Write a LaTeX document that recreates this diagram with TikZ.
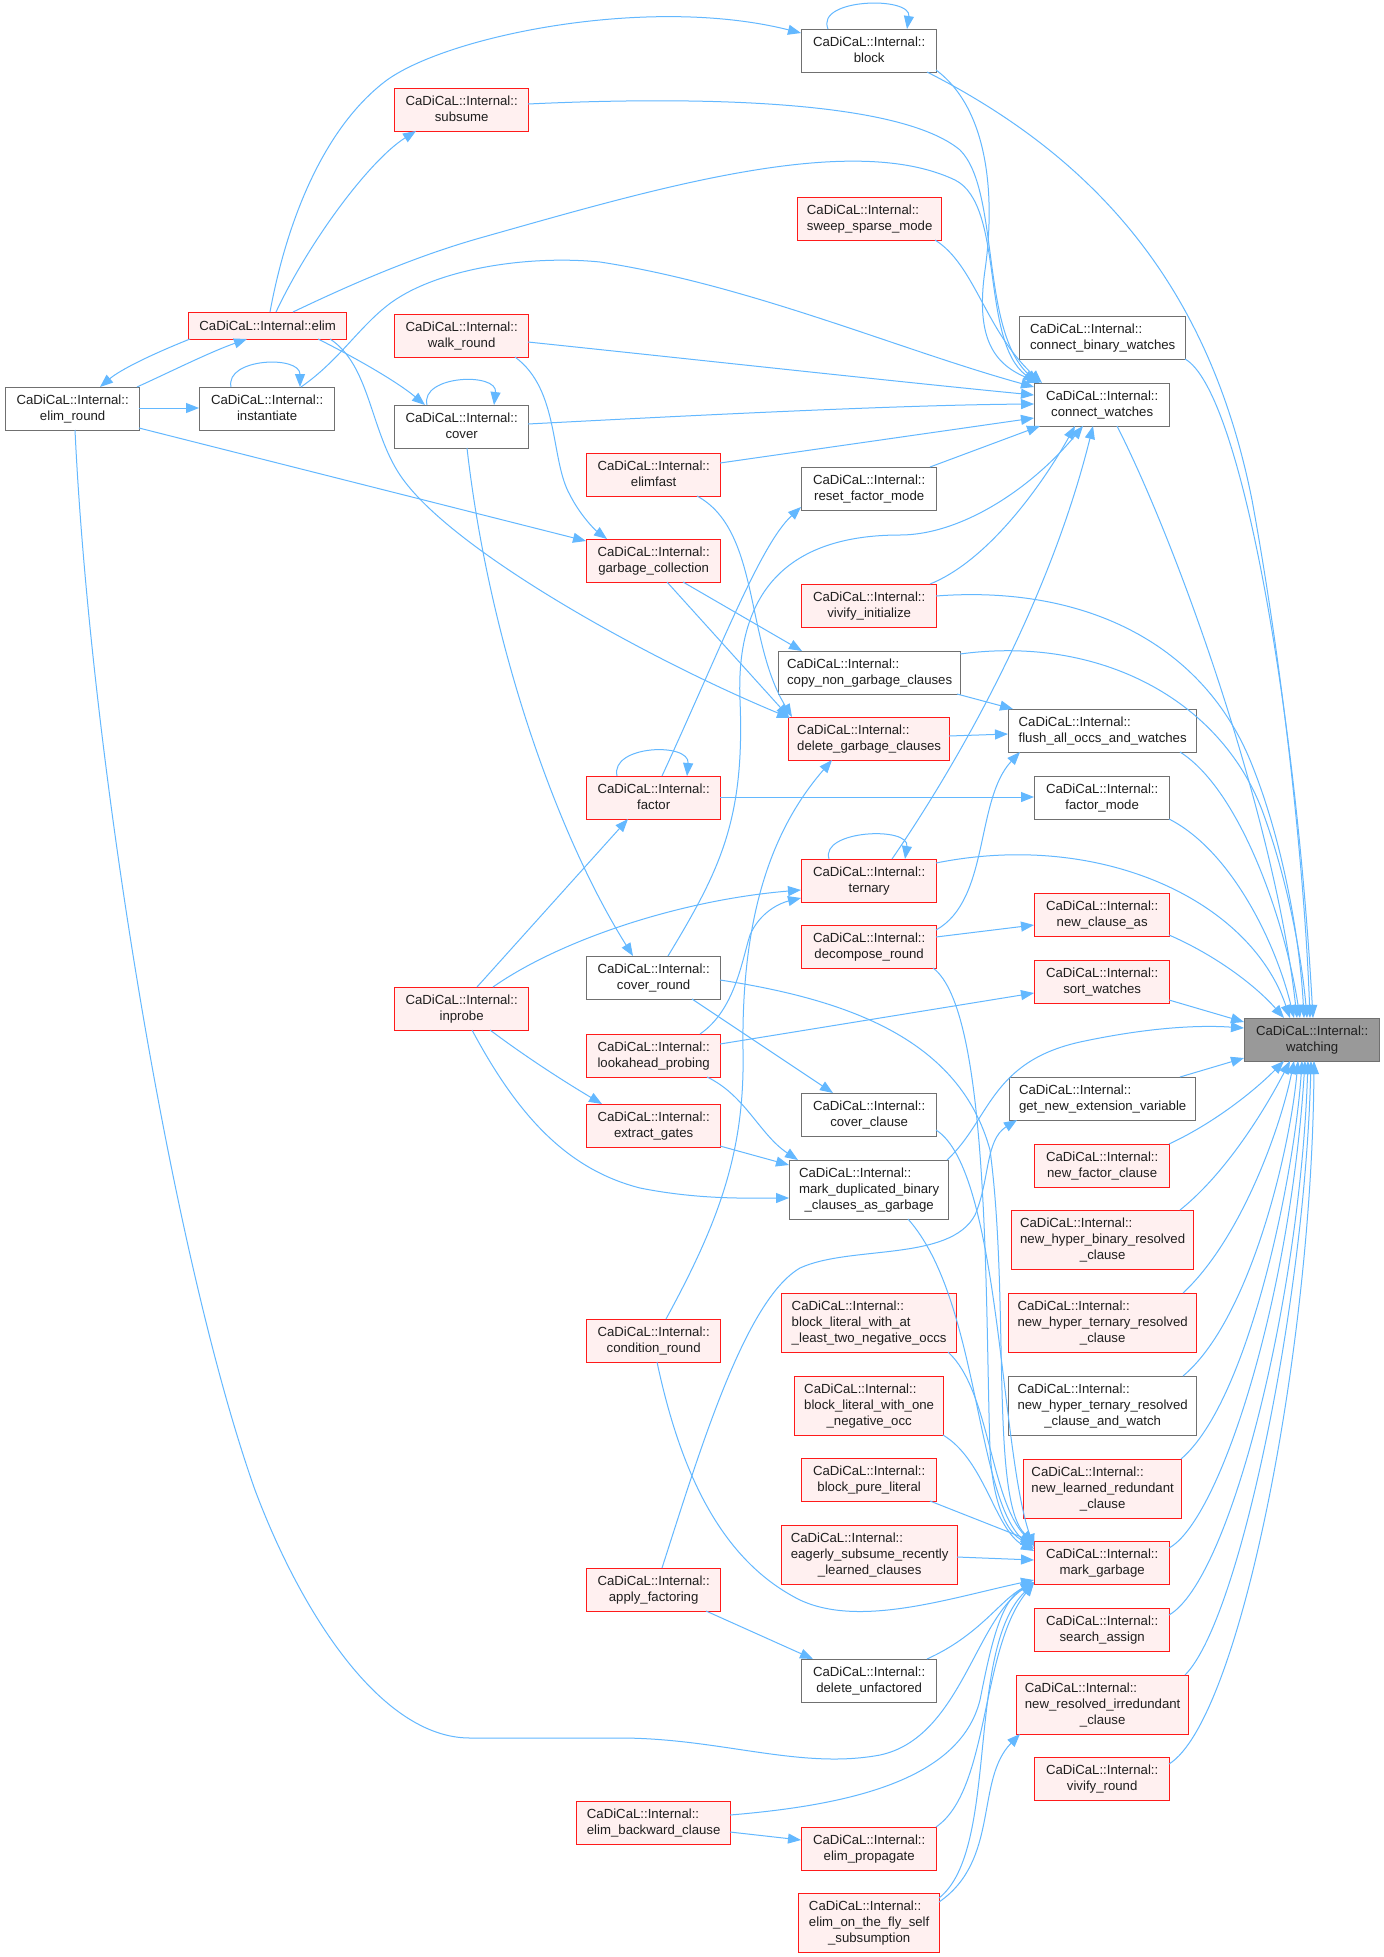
\documentclass[tikz,border=0pt]{standalone}
\usepackage{fontspec}
\setmainfont{Liberation Sans}
\usetikzlibrary{arrows.meta}
\definecolor{ec}{HTML}{63B8FF}
\definecolor{gb}{HTML}{707070}
\definecolor{rb}{HTML}{FF1A1A}
\definecolor{rf}{HTML}{FFF0F0}
\definecolor{wf}{HTML}{999999}
\newcommand\lbA[1]{\begin{tabular}{@{}l@{}}CaDiCaL::Internal::\\\multicolumn{1}{@{}c@{}}{#1}\end{tabular}}
\newcommand\lbB[2]{\begin{tabular}{@{}l@{}}CaDiCaL::Internal::\\#1\\\multicolumn{1}{@{}c@{}}{#2}\end{tabular}}
\begin{document}
\begin{tikzpicture}[x=1pt,y=-1pt,
 nb/.style={draw=gb, fill=white, line width=1.3pt, inner sep=0pt, anchor=north west, font=\fontsize{13.2}{16}\selectfont, text=black!88},
 nr/.style={nb, draw=rb, fill=rf},
 cx/.style={draw=ec, line width=1pt, -{Triangle[length=13pt,width=10pt]}}]
\useasboundingbox[fill=white] (0,0) rectangle (1384,1957);

\node[nr,minimum width=158,minimum height=27] (elim) at (188,312) {CaDiCaL::Internal::elim};
\node[nb,minimum width=134,minimum height=43] (elimround) at (5,387) {\lbA{elim\_round}};
\node[nb,minimum width=135,minimum height=43] (inst) at (199,387) {\lbA{instantiate}};
\node[nr,minimum width=134,minimum height=43] (subsume) at (394,88) {\lbA{subsume}};
\node[nr,minimum width=134,minimum height=43] (walk) at (394,314) {\lbA{walk\_round}};
\node[nb,minimum width=134,minimum height=43] (cover) at (394,405) {\lbA{cover}};
\node[nb,minimum width=135,minimum height=43] (block) at (801,29) {\lbA{block}};
\node[nr,minimum width=144,minimum height=43] (sweep) at (797,197) {\lbA{sweep\_sparse\_mode}};
\node[nr,minimum width=134,minimum height=43] (elimfast) at (586,453) {\lbA{elimfast}};
\node[nb,minimum width=135,minimum height=43] (resetfm) at (801,467) {\lbA{reset\_factor\_mode}};
\node[nb,minimum width=166,minimum height=43] (cbw) at (1019,316) {\lbA{connect\_binary\_watches}};
\node[nb,minimum width=135,minimum height=43] (cw) at (1034,383) {\lbA{connect\_watches}};
\node[nr,minimum width=134,minimum height=43] (gc) at (586,539) {\lbA{garbage\_collection}};
\node[nr,minimum width=135,minimum height=43] (vivinit) at (801,584) {\lbA{vivify\_initialize}};
\node[nb,minimum width=182,minimum height=43] (copyng) at (778,651) {\lbA{copy\_non\_garbage\_clauses}};
\node[nr,minimum width=161,minimum height=43] (dgc) at (788,717) {\lbA{delete\_garbage\_clauses}};
\node[nr,minimum width=134,minimum height=43] (factor) at (586,776) {\lbA{factor}};
\node[nr,minimum width=135,minimum height=43] (ternary) at (801,859) {\lbA{ternary}};
\node[nr,minimum width=135,minimum height=43] (decomp) at (801,925) {\lbA{decompose\_round}};
\node[nb,minimum width=134,minimum height=43] (coverround) at (586,956) {\lbA{cover\_round}};
\node[nb,minimum width=188,minimum height=43] (flush) at (1008,709) {\lbA{flush\_all\_occs\_and\_watches}};
\node[nb,minimum width=135,minimum height=43] (factormode) at (1034,776) {\lbA{factor\_mode}};
\node[nr,minimum width=135,minimum height=43] (newclauseas) at (1034,893) {\lbA{new\_clause\_as}};
\node[nr,minimum width=135,minimum height=43] (sortw) at (1034,960) {\lbA{sort\_watches}};
\node[nr,minimum width=134,minimum height=43] (inprobe) at (394,987) {\lbA{inprobe}};
\node[nr,minimum width=134,minimum height=43] (lookahead) at (586,1034) {\lbA{lookahead\_probing}};
\node[nr,minimum width=134,minimum height=43] (extract) at (586,1104) {\lbA{extract\_gates}};
\node[nb,minimum width=135,minimum height=43] (coverclause) at (801,1093) {\lbA{cover\_clause}};
\node[nb,minimum width=159,minimum height=59] (markdup) at (789,1160) {\lbB{mark\_duplicated\_binary}{\_clauses\_as\_garbage}};
\node[nr,minimum width=134,minimum height=43] (condround) at (586,1319) {\lbA{condition\_round}};
\node[nr,minimum width=175,minimum height=59] (bltwo) at (781,1293) {\lbB{block\_literal\_with\_at}{\_least\_two\_negative\_occs}};
\node[nr,minimum width=149,minimum height=59] (blone) at (794,1376) {\lbB{block\_literal\_with\_one}{\_negative\_occ}};
\node[nr,minimum width=135,minimum height=43] (blpure) at (801,1458) {\lbA{block\_pure\_literal}};
\node[nb,fill=wf,minimum width=135,minimum height=43] (watching) at (1244,1018) {\lbA{watching}};
\node[nb,minimum width=186,minimum height=43] (getnew) at (1009,1077) {\lbA{get\_new\_extension\_variable}};
\node[nr,minimum width=135,minimum height=43] (newfactor) at (1034,1144) {\lbA{new\_factor\_clause}};
\node[nr,minimum width=182,minimum height=59] (nhbr) at (1011,1210) {\lbB{new\_hyper\_binary\_resolved}{\_clause}};
\node[nr,minimum width=188,minimum height=59] (nhtr) at (1008,1293) {\lbB{new\_hyper\_ternary\_resolved}{\_clause}};
\node[nb,minimum width=188,minimum height=59] (nhtrw) at (1008,1376) {\lbB{new\_hyper\_ternary\_resolved}{\_clause\_and\_watch}};
\node[nr,minimum width=158,minimum height=59] (nlr) at (1023,1459) {\lbB{new\_learned\_redundant}{\_clause}};
\node[nr,minimum width=176,minimum height=59] (eager) at (781,1525) {\lbB{eagerly\_subsume\_recently}{\_learned\_clauses}};
\node[nr,minimum width=134,minimum height=43] (applyf) at (586,1568) {\lbA{apply\_factoring}};
\node[nb,minimum width=135,minimum height=43] (delunf) at (801,1659) {\lbA{delete\_unfactored}};
\node[nr,minimum width=154,minimum height=43] (elimback) at (576,1801) {\lbA{elim\_backward\_clause}};
\node[nr,minimum width=135,minimum height=43] (elimprop) at (801,1827) {\lbA{elim\_propagate}};
\node[nr,minimum width=141,minimum height=59] (elimfly) at (798,1893) {\lbB{elim\_on\_the\_fly\_self}{\_subsumption}};
\node[nr,minimum width=135,minimum height=43] (markg) at (1034,1541) {\lbA{mark\_garbage}};
\node[nr,minimum width=135,minimum height=43] (search) at (1034,1608) {\lbA{search\_assign}};
\node[nr,minimum width=172,minimum height=59] (newres) at (1016,1675) {\lbB{new\_resolved\_irredundant}{\_clause}};
\node[nr,minimum width=135,minimum height=43] (vivround) at (1034,1757) {\lbA{vivify\_round}};

% edges
\draw[cx] ([shift={(82,0)}]elim.north west) .. controls (285,230) and (320,130) .. (387,80) .. controls (450,35) and (650,-5) .. ([shift={(0,4)}]block.north west);
\draw[cx] ([shift={(88,0)}]elim.north west) .. controls (310,240) and (370,160) .. ([shift={(22,43)}]subsume.north west);
\draw[cx] ([shift={(105,0)}]elim.north west) .. controls (360,280) and (420,255) .. (480,238) .. controls (650,190) and (850,130) .. (955,180) .. controls (1005,205) and (980,340) .. ([shift={(2,0)}]cw.north west);
\draw[cx] ([shift={(2,27)}]elim.north west) .. controls (150,355) and (120,370) .. ([shift={(95,0)}]elimround.north west);
\draw[cx] ([shift={(132,0)}]elimround.north west) .. controls (170,372) and (210,352) .. ([shift={(59,27)}]elim.north west);
\draw[cx] ([shift={(134,21)}]elimround.north west) -- ([shift={(0,21)}]inst.north west);
\draw[cx] ([shift={(32,0)}]inst.north west) .. controls (225,358) and (300,355) .. ([shift={(101,0)}]inst.north west);
\draw[cx] ([shift={(102,0)}]inst.north west) .. controls (340,360) and (360,325) .. (392,302) .. controls (440,268) and (530,255) .. (600,262) .. controls (750,285) and (900,350) .. ([shift={(0,4)}]cw.north west);
\draw[cx] ([shift={(134,41)}]elimround.north west) -- ([shift={(0,2)}]gc.north west);
\draw[cx] ([shift={(142,27)}]elim.north west) .. controls (370,365) and (370,430) .. (400,475) .. controls (450,550) and (650,660) .. ([shift={(2,1)}]dgc.north west);
\draw[cx] ([shift={(70,43)}]elimround.north west) .. controls (90,750) and (170,1250) .. (255,1490) .. controls (300,1610) and (380,1738) .. (470,1738) -- (620,1738) .. controls (720,1738) and (800,1770) .. (880,1755) .. controls (960,1738) and (975,1620) .. ([shift={(0,41)}]markg.north west);
\draw[cx] ([shift={(130,27)}]elim.north west) .. controls (350,355) and (395,380) .. ([shift={(31,0)}]cover.north west);
\draw[cx] ([shift={(33,0)}]cover.north west) .. controls (420,375) and (498,372) .. ([shift={(100,0)}]cover.north west);
\draw[cx] ([shift={(134,19)}]cover.north west) .. controls (700,415) and (900,405) .. ([shift={(0,21)}]cw.north west);
\draw[cx] ([shift={(73,43)}]cover.north west) .. controls (490,650) and (560,840) .. ([shift={(47,0)}]coverround.north west);
\draw[cx] ([shift={(134,28)}]walk.north west) .. controls (700,360) and (900,382) .. ([shift={(0,12)}]cw.north west);
\draw[cx] ([shift={(121,43)}]walk.north west) .. controls (560,390) and (550,460) .. (570,495) .. controls (580,515) and (595,530) .. ([shift={(21,0)}]gc.north west);
\draw[cx] ([shift={(134,16)}]subsume.north west) .. controls (700,96) and (900,100) .. (960,150) .. controls (1000,190) and (980,330) .. ([shift={(4,0)}]cw.north west);
\draw[cx] ([shift={(126,43)}]block.north west) .. controls (1100,160) and (1210,290) .. (1252,500) .. controls (1285,680) and (1305,880) .. ([shift={(66,0)}]watching.north west);
\draw[cx] ([shift={(135,41)}]block.north west) .. controls (990,110) and (995,200) .. (985,270) .. controls (975,340) and (995,365) .. ([shift={(6,0)}]cw.north west);
\draw[cx] ([shift={(27,0)}]block.north west) .. controls (815,-2) and (912,-4) .. ([shift={(106,0)}]block.north west);
\draw[cx] ([shift={(166,43)}]cbw.north west) .. controls (1240,390) and (1295,700) .. ([shift={(69,0)}]watching.north west);
\draw[cx] ([shift={(83,43)}]cw.north west) .. controls (1180,550) and (1275,820) .. ([shift={(53,0)}]watching.north west);
\draw[cx] ([shift={(138,43)}]sweep.north west) .. controls (975,265) and (985,330) .. ([shift={(8,0)}]cw.north west);
\draw[cx] ([shift={(134,10)}]elimfast.north west) -- ([shift={(0,35)}]cw.north west);
\draw[cx] ([shift={(129,0)}]resetfm.north west) -- ([shift={(6,43)}]cw.north west);
\draw[cx] ([shift={(129,0)}]vivinit.north west) .. controls (990,560) and (1045,480) .. ([shift={(41,43)}]cw.north west);
\draw[cx] ([shift={(82,0)}]coverround.north west) .. controls (720,870) and (745,820) .. (740,700) .. controls (735,580) and (800,535) .. (900,535) .. controls (960,535) and (1030,490) .. ([shift={(49,43)}]cw.north west);
\draw[cx] ([shift={(91,0)}]ternary.north west) .. controls (960,760) and (1050,600) .. ([shift={(59,43)}]cw.north west);
\draw[cx] ([shift={(81,43)}]gc.north west) -- ([shift={(1,0)}]dgc.north west);
\draw[cx] ([shift={(97,43)}]gc.north west) -- ([shift={(24,0)}]copyng.north west);
\draw[cx] ([shift={(111,43)}]elimfast.north west) .. controls (760,530) and (745,640) .. ([shift={(4,0)}]dgc.north west);
\draw[cx] ([shift={(80,0)}]condround.north west) .. controls (720,1220) and (745,1150) .. (743,1050) .. controls (741,900) and (780,820) .. ([shift={(44,43)}]dgc.north west);
\draw[cx] ([shift={(114,0)}]lookahead.north west) .. controls (735,1010) and (742,960) .. (750,935) .. controls (760,912) and (780,903) .. ([shift={(0,39)}]ternary.north west);
\draw[cx] ([shift={(99,0)}]inprobe.north west) .. controls (560,940) and (680,900) .. ([shift={(0,31)}]ternary.north west);
\draw[cx] ([shift={(83,0)}]inprobe.north west) -- ([shift={(42,43)}]factor.north west);
\draw[cx] ([shift={(31,0)}]factor.north west) .. controls (610,745) and (690,742) .. ([shift={(101,0)}]factor.north west);
\draw[cx] ([shift={(76,0)}]factor.north west) .. controls (720,650) and (760,545) .. ([shift={(0,40)}]resetfm.north west);
\draw[cx] ([shift={(134,21)}]factor.north west) -- ([shift={(0,21)}]factormode.north west);
\draw[cx] ([shift={(179,43)}]copyng.north west) -- ([shift={(5,0)}]flush.north west);
\draw[cx] ([shift={(161,19)}]dgc.north west) -- ([shift={(0,25)}]flush.north west);
\draw[cx] ([shift={(135,5)}]decomp.north west) .. controls (990,900) and (975,800) .. ([shift={(12,43)}]flush.north west);
\draw[cx] ([shift={(135,12)}]decomp.north west) -- ([shift={(0,32)}]newclauseas.north west);
\draw[cx] ([shift={(132,43)}]decomp.north west) .. controls (990,1010) and (985,1300) .. (990,1450) .. controls (993,1510) and (1010,1535) .. ([shift={(0,4)}]markg.north west);
\draw[cx] ([shift={(106,43)}]coverround.north west) -- ([shift={(32,0)}]coverclause.north west);
\draw[cx] ([shift={(134,24)}]coverround.north west) .. controls (850,1000) and (960,1040) .. (990,1150) .. controls (1010,1300) and (990,1500) .. ([shift={(0,2)}]markg.north west);
\draw[cx] ([shift={(135,37)}]coverclause.north west) .. controls (1000,1170) and (1000,1450) .. ([shift={(0,6)}]markg.north west);
\draw[cx] ([shift={(119,59)}]markdup.north west) .. controls (980,1300) and (975,1500) .. ([shift={(0,8)}]markg.north west);
\draw[cx] ([shift={(121,43)}]lookahead.north west) .. controls (745,1095) and (760,1135) .. ([shift={(9,0)}]markdup.north west);
\draw[cx] ([shift={(134,42)}]extract.north west) -- ([shift={(0,5)}]markdup.north west);
\draw[cx] ([shift={(78,43)}]inprobe.north west) .. controls (520,1120) and (570,1170) .. (640,1188) .. controls (700,1200) and (750,1198) .. ([shift={(0,38)}]markdup.north west);
\draw[cx] ([shift={(96,43)}]inprobe.north west) .. controls (530,1060) and (570,1085) .. ([shift={(16,0)}]extract.north west);
\draw[cx] ([shift={(134,10)}]lookahead.north west) -- ([shift={(0,33)}]sortw.north west);
\draw[cx] ([shift={(71,43)}]condround.north west) .. controls (680,1470) and (720,1560) .. (800,1600) .. controls (860,1628) and (950,1598) .. ([shift={(0,39)}]markg.north west);
\draw[cx] ([shift={(76,0)}]applyf.north west) .. controls (700,1450) and (745,1300) .. (800,1268) .. controls (850,1245) and (950,1262) .. (975,1215) .. controls (990,1180) and (985,1140) .. ([shift={(8,43)}]getnew.north west);
\draw[cx] ([shift={(120,43)}]applyf.north west) -- ([shift={(12,0)}]delunf.north west);
\draw[cx] ([shift={(167,59)}]bltwo.north west) .. controls (990,1390) and (990,1500) .. ([shift={(0,4)}]markg.north west);
\draw[cx] ([shift={(149,59)}]blone.north west) .. controls (985,1460) and (995,1530) .. ([shift={(0,10)}]markg.north west);
\draw[cx] ([shift={(129,43)}]blpure.north west) -- ([shift={(0,1)}]markg.north west);
\draw[cx] ([shift={(176,32)}]eager.north west) -- ([shift={(0,19)}]markg.north west);
\draw[cx] ([shift={(126,0)}]delunf.north west) .. controls (980,1635) and (1000,1600) .. ([shift={(0,41)}]markg.north west);
\draw[cx] ([shift={(154,14)}]elimback.north west) .. controls (850,1805) and (960,1780) .. (980,1700) .. controls (990,1650) and (1000,1600) .. ([shift={(0,42)}]markg.north west);
\draw[cx] ([shift={(154,31)}]elimback.north west) -- ([shift={(0,13)}]elimprop.north west);
\draw[cx] ([shift={(135,0)}]elimprop.north west) .. controls (990,1790) and (980,1650) .. ([shift={(0,42)}]markg.north west);
\draw[cx] ([shift={(141,5)}]elimfly.north west) .. controls (1000,1850) and (965,1650) .. ([shift={(0,42)}]markg.north west);
\draw[cx] ([shift={(141,9)}]elimfly.north west) .. controls (1000,1860) and (975,1780) .. ([shift={(4,59)}]newres.north west);
\draw[cx] ([shift={(135,12)}]vivinit.north west) .. controls (1080,585) and (1200,640) .. (1250,760) .. controls (1283,840) and (1300,940) .. ([shift={(60,0)}]watching.north west);
\draw[cx] ([shift={(182,3)}]copyng.north west) .. controls (1100,635) and (1220,700) .. (1262,810) .. controls (1288,880) and (1302,960) .. ([shift={(63,0)}]watching.north west);
\draw[cx] ([shift={(172,43)}]flush.north west) .. controls (1240,790) and (1285,920) .. ([shift={(56,0)}]watching.north west);
\draw[cx] ([shift={(135,43)}]factormode.north west) .. controls (1230,850) and (1275,940) .. ([shift={(50,0)}]watching.north west);
\draw[cx] ([shift={(135,4)}]ternary.north west) .. controls (1100,830) and (1250,900) .. ([shift={(46,0)}]watching.north west);
\draw[cx] ([shift={(135,42)}]newclauseas.north west) .. controls (1215,955) and (1255,985) .. ([shift={(40,0)}]watching.north west);
\draw[cx] ([shift={(135,40)}]sortw.north west) -- ([shift={(0,4)}]watching.north west);
\draw[cx] ([shift={(158,0)}]markdup.north west) .. controls (990,1120) and (990,1062) .. (1080,1042) .. controls (1150,1027) and (1200,1025) .. ([shift={(0,10)}]watching.north west);
\draw[cx] ([shift={(171,0)}]getnew.north west) -- ([shift={(0,40)}]watching.north west);
\draw[cx] ([shift={(135,0)}]newfactor.north west) .. controls (1210,1125) and (1250,1095) .. ([shift={(40,43)}]watching.north west);
\draw[cx] ([shift={(169,0)}]nhbr.north west) .. controls (1230,1170) and (1270,1100) .. ([shift={(46,43)}]watching.north west);
\draw[cx] ([shift={(175,0)}]nhtr.north west) .. controls (1240,1240) and (1280,1130) .. ([shift={(50,43)}]watching.north west);
\draw[cx] ([shift={(175,0)}]nhtrw.north west) .. controls (1250,1320) and (1290,1150) .. ([shift={(54,43)}]watching.north west);
\draw[cx] ([shift={(158,0)}]nlr.north west) .. controls (1250,1400) and (1295,1170) .. ([shift={(58,43)}]watching.north west);
\draw[cx] ([shift={(135,7)}]markg.north west) .. controls (1220,1520) and (1290,1300) .. ([shift={(61,43)}]watching.north west);
\draw[cx] ([shift={(135,7)}]search.north west) .. controls (1230,1580) and (1300,1300) .. ([shift={(64,43)}]watching.north west);
\draw[cx] ([shift={(169,0)}]newres.north west) .. controls (1240,1620) and (1305,1300) .. ([shift={(67,43)}]watching.north west);
\draw[cx] ([shift={(135,7)}]vivround.north west) .. controls (1240,1720) and (1312,1350) .. ([shift={(70,43)}]watching.north west);
\draw[cx] ([shift={(28,0)}]ternary.north west) .. controls (820,830) and (910,826) .. ([shift={(104,0)}]ternary.north west);
\end{tikzpicture}
\end{document}
